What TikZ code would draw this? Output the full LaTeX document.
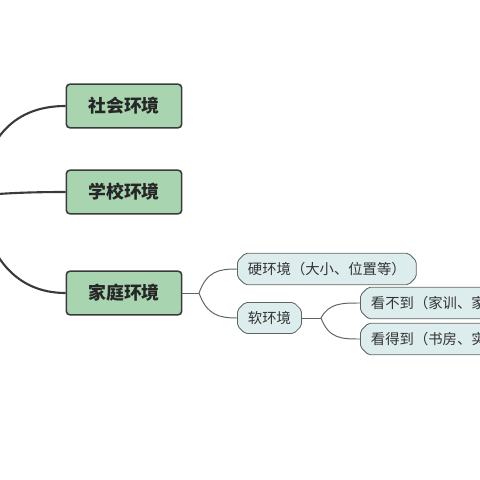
\documentclass[tikz,border=0pt]{standalone}
\usepackage{fontspec}
\setmainfont{Noto Sans CJK SC}
\usetikzlibrary{positioning, shapes.misc}

\definecolor{maingreen}{HTML}{A8D4B0}
\definecolor{maingray}{HTML}{3A3A3A}
\definecolor{subblue}{HTML}{DDEDED}
\definecolor{subgray}{HTML}{5E6464}

\begin{document}
\begin{tikzpicture}[
        x=0.025cm, y=-0.025cm,
        zhu/.style = {rectangle, rounded corners=2.5pt, draw=maingray, line width=1.1pt,
                      fill=maingreen, text=black!85, minimum width=82pt, minimum height=31pt,
                      font=\bfseries\fontsize{12.7}{14}\selectfont},
        zi/.style = {chamfered rectangle, chamfered rectangle xsep=2.5pt, chamfered rectangle ysep=3pt,
                     rounded corners=1.5pt, draw=subgray, line width=0.6pt, fill=subblue,
                     text=black!80, minimum height=18pt, inner xsep=5pt,
                     font=\fontsize{10.2}{12}\selectfont},
        cu/.style = {maingray, line width=1.5pt},
        xi/.style = {subgray, line width=0.7pt}
        ]

        \useasboundingbox (0,0) rectangle (480,480);

        \coordinate (root) at (-22,196);
        \node[zhu] (shehui) at (124,106) {社会环境};
        \node[zhu] (xuexiao) at (124,192) {学校环境};
        \node[zhu] (jiating) at (124,293) {家庭环境};

        \node[zi, anchor=west] (ying) at (237,269) {硬环境（大小、位置等）};
        \node[zi, anchor=west] (ruan) at (237,318) {软环境};
        \node[zi, anchor=west] (kanbudao) at (360,303) {看不到（家训、家规等）};
        \node[zi, anchor=west] (kandedao) at (360,339) {看得到（书房、实验室等）};

        \coordinate (jiafork) at (199,293);
        \coordinate (ruanfork) at (321,318);

        \draw[cu] (shehui.west) .. controls +(-50,0) and +(8,-60) .. (root);
        \draw[cu] (xuexiao.west) .. controls +(-45,0) and +(15,-2) .. (root);
        \draw[cu] (jiating.west) .. controls +(-50,0) and +(8,60) .. (root);

        \draw[xi] (jiating.east) -- (jiafork);
        \draw[xi] (jiafork) .. controls +(8,-22) and +(-18,0) .. (ying.west);
        \draw[xi] (jiafork) .. controls +(8,22) and +(-18,0) .. (ruan.west);
        \draw[xi] (ruan.east) -- (ruanfork);
        \draw[xi] (ruanfork) .. controls +(8,-15) and +(-18,0) .. (kanbudao.west);
        \draw[xi] (ruanfork) .. controls +(8,21) and +(-18,0) .. (kandedao.west);

      \end{tikzpicture}
\end{document}
